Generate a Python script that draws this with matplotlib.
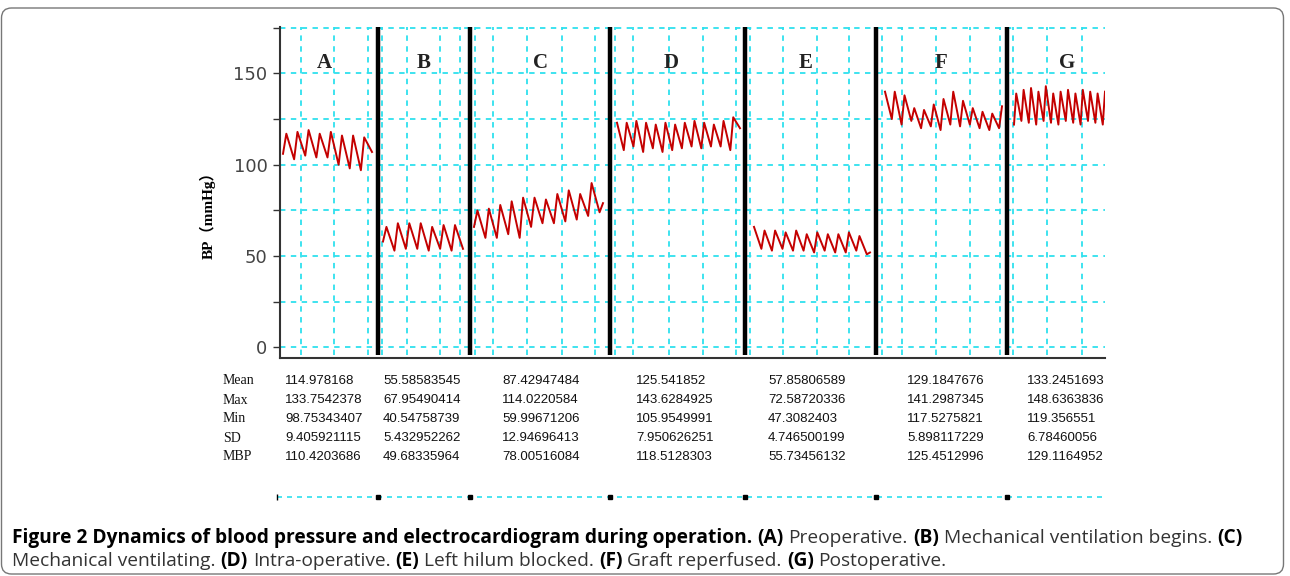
import numpy as np
import matplotlib.pyplot as plt
from matplotlib.patches import FancyBboxPatch
from matplotlib.transforms import blended_transform_factory

# ---- data ----
panels = ['A', 'B', 'C', 'D', 'E', 'F', 'G']

# peak / trough sequence of each BP trace (mmHg)
bp_a = [106, 117, 103, 118, 105, 119, 104, 117, 104, 118, 100, 116, 98, 116, 97, 115, 107]
bp_b = [58, 66, 53, 68, 54, 68, 54, 68, 53, 66, 54, 67, 53, 67, 54]
bp_c = [66, 75, 60, 76, 60, 78, 62, 80, 60, 82, 66, 82, 68, 81, 68, 84, 69, 86, 70, 84, 72, 90, 74, 79]
bp_d = [123, 108, 123, 110, 124, 107, 123, 109, 122, 107, 123, 108, 122, 109, 123, 110,
        124, 109, 123, 110, 122, 110, 124, 108, 126, 120]
bp_e = [66, 54, 64, 53, 64, 54, 63, 53, 64, 53, 62, 52, 63, 53, 62, 52, 62, 52, 63, 53, 61, 51, 52]
bp_f = [140, 125, 140, 122, 138, 124, 131, 120, 130, 121, 133, 119, 136, 122, 140, 121,
        135, 122, 131, 120, 129, 119, 128, 120, 132]
bp_g = [122, 139, 124, 141, 123, 142, 122, 140, 124, 143, 123, 139, 122, 140, 124, 141,
        123, 139, 122, 141, 124, 140, 123, 139, 122, 140]
traces = [bp_a, bp_b, bp_c, bp_d, bp_e, bp_f, bp_g]

row_labels = ['Mean', 'Max', 'Min', 'SD', 'MBP']
mean_vals = ['114.978168', '55.58583545', '87.42947484', '125.541852', '57.85806589', '129.1847676', '133.2451693']
max_vals = ['133.7542378', '67.95490414', '114.0220584', '143.6284925', '72.58720336', '141.2987345', '148.6363836']
min_vals = ['98.75343407', '40.54758739', '59.99671206', '105.9549991', '47.3082403', '117.5275821', '119.356551']
sd_vals = ['9.405921115', '5.432952262', '12.94696413', '7.950626251', '4.746500199', '5.898117229', '6.78460056']
mbp_vals = ['110.4203686', '49.68335964', '78.00516084', '118.5128303', '55.73456132', '125.4512996', '129.1164952']
table_rows = [mean_vals, max_vals, min_vals, sd_vals, mbp_vals]

# ---- layout (time axis in arbitrary units) ----
edges = [0, 98, 190, 330, 465, 596, 727, 825]
wave_spans = [(3, 92), (103, 183), (194, 323), (337, 460), (474, 590), (605, 722), (734, 825)]
letter_x = [44, 144, 260, 391, 526, 661, 787]
vgrid = [21, 54, 88, 102, 127, 160, 180, 195, 213, 247, 282, 315, 335, 353, 389, 423, 456,
         470, 503, 537, 569, 602, 622, 656, 690, 720, 733, 767, 802]
col_x = [5, 103, 222, 356, 488, 627, 747]
row_y = [381, 400, 419, 438, 457]  # pixel rows of the stats table

cyan = '#2ee0ee'
W, H = 1290, 576

fig = plt.figure(figsize=(W / 100, H / 100), dpi=100)
ax = fig.add_axes([280 / W, 1 - 358 / H, 825 / W, 331 / H])
ax.set_xlim(0, 825)
ax.set_ylim(-5.75, 175.4)

# grid
ax.hlines(np.arange(0, 176, 25), 0, 825, colors=cyan, linestyles=(0, (3, 3)), lw=1.3, zorder=1)
ax.vlines(vgrid, -4, 175.4, colors=cyan, linestyles=(0, (3, 3)), lw=1.3, zorder=1)

# BP traces (fast rise, slower fall)
for vals, (x0, x1) in zip(traces, wave_spans):
    v = np.array(vals, dtype=float)
    steps = np.where(np.diff(v) > 0, 0.3, 0.7)
    xs = np.concatenate([[0], np.cumsum(steps)])
    xs = x0 + xs / xs[-1] * (x1 - x0)
    ax.plot(xs, v, color='#c40000', lw=1.4, zorder=2)

# separators between phases
ax.vlines(edges[1:-1], -4, 175.4, colors='black', lw=3.2, zorder=3)

for lab, x in zip(panels, letter_x):
    ax.text(x, 155.5, lab, ha='center', va='center', fontsize=15, weight='bold',
            family='Liberation Serif', color='#222')

for s in ['top', 'right']:
    ax.spines[s].set_visible(False)
for s in ['left', 'bottom']:
    ax.spines[s].set_color('#333')
    ax.spines[s].set_linewidth(1.5)
ax.set_xticks([])
ax.set_yticks([0, 50, 100, 150])
ax.set_yticks([25, 75, 125, 175], minor=True)
ax.tick_params(axis='y', which='both', length=5, width=1, color='#333',
               labelsize=13, labelcolor='#444', pad=4)

fig.text(208 / W, 1 - 212 / H, 'BP（mmHg）', rotation=90, ha='center', va='center',
         fontsize=11, weight='bold', family=['Liberation Serif', 'Noto Sans CJK SC'])

# stats table under the traces
trans = blended_transform_factory(ax.transData, fig.transFigure)
for lab, vals, y in zip(row_labels, table_rows, row_y):
    fy = 1 - y / H
    ax.text(-57, fy, lab, transform=trans, ha='left', va='center', fontsize=10,
            family='Liberation Serif', color='#111', clip_on=False)
    for x, s in zip(col_x, vals):
        ax.text(x, fy, s, transform=trans, ha='left', va='center', fontsize=9.5,
                family='Liberation Sans', color='#111', clip_on=False)

# second (cut) time axis at the bottom
yb = 1 - 497 / H
ax.plot([-3, 825], [yb, yb], transform=trans, color=cyan, lw=1.2,
        ls=(0, (3, 3)), clip_on=False)
ax.plot(edges[1:-1], [yb] * 6, 's', ms=3, color='black', transform=trans, clip_on=False)
ax.plot([-3], [yb], '|', ms=5, color='black', transform=trans, clip_on=False)

# caption
renderer = fig.canvas.get_renderer()
cap_size = 13.8
space = cap_size * 100 / 72 * 0.26
line1 = [('Figure 2 Dynamics of blood pressure and electrocardiogram during operation.', 'bold'),
         ('(A)', 'bold'), ('Preoperative.', 'normal'), ('(B)', 'bold'),
         ('Mechanical ventilation begins.', 'normal'), ('(C)', 'bold')]
line2 = [('Mechanical ventilating.', 'normal'), ('(D)', 'bold'), ('Intra-operative.', 'normal'),
         ('(E)', 'bold'), ('Left hilum blocked.', 'normal'), ('(F)', 'bold'),
         ('Graft reperfused.', 'normal'), ('(G)', 'bold'), ('Postoperative.', 'normal')]
for segs, ypix in [(line1, 538), (line2, 561)]:
    x = 12
    for txt, wt in segs:
        t = fig.text(x / W, 1 - ypix / H, txt, fontsize=cap_size, weight=wt,
                     family='Open Sans', va='center', ha='left',
                     color='black' if wt == 'bold' else '#333')
        x = t.get_window_extent(renderer).x1 + space

border = FancyBboxPatch((1.5, 2), 1282, 566, boxstyle='round,pad=0,rounding_size=10',
                        transform=None, fill=False, ec='#777', lw=1)
fig.add_artist(border)

fig.savefig('out.png', dpi=100)
